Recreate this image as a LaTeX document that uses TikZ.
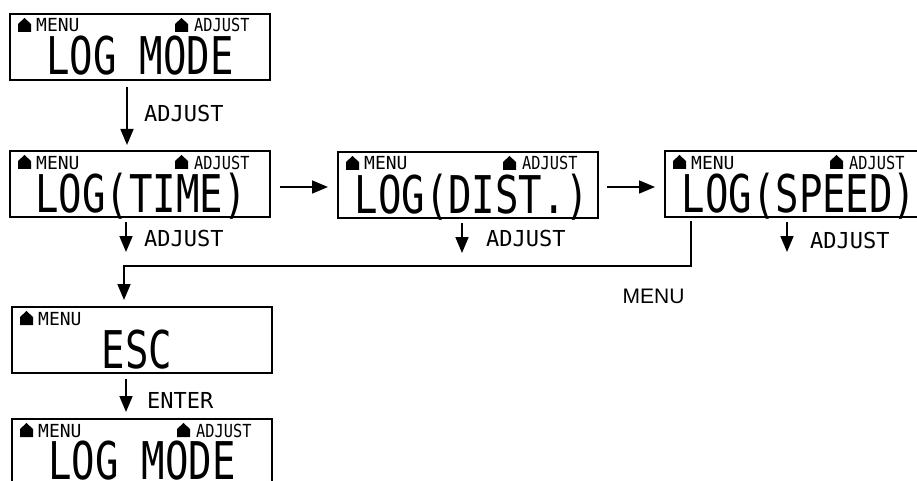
\documentclass[tikz,border=0pt]{standalone}
\usepackage{fontspec}
\usepackage{graphicx}
\usetikzlibrary{arrows.meta,calc}
\newfontfamily\lcdfont{DejaVu Sans Mono}
\newfontfamily\arialfont{Liberation Sans}
\tikzset{
  lcdbox/.style={draw, line width=1.6pt, anchor=north west, minimum width=260pt, minimum height=66pt, inner sep=0pt, outer sep=0pt},
  bigtxt/.style={anchor=base, inner sep=0pt, font=\lcdfont\fontsize{52}{52}\selectfont},
  smalltxt/.style={anchor=base west, inner sep=0pt, font=\lcdfont\fontsize{18}{18}\selectfont},
  steplbl/.style={anchor=base west, inner sep=0pt, font=\lcdfont\fontsize{22}{22}\selectfont},
  arr/.style={line width=1.7pt, -{Triangle[width=13pt,length=16pt]}},
}
\newcommand\lcdmenu[1]{%
  \fill ($(#1.north west)+(8,18)$) -- ++(13,0) -- ++(0,-8) -- ++(-6.5,-6) -- ++(-6.5,6) -- cycle;
  \node[smalltxt] (#1-menu) at ($(#1.north west)+(26,18)$) {MENU};
}
\newcommand\lcdadjust[1]{%
  \fill ($(#1.north west)+(165,18)$) -- ++(13,0) -- ++(0,-8) -- ++(-6.5,-6) -- ++(-6.5,6) -- cycle;
  \node[smalltxt] (#1-adj) at ($(#1.north west)+(184,18)$) {\scalebox{0.85}[1]{ADJUST}};
}
\begin{document}
\begin{tikzpicture}[x=1pt,y=-1pt]
\useasboundingbox (0,0) rectangle (917,481);
\clip (0,0) rectangle (917,481);
% panels
\node[lcdbox] (b1) at (10,14) {};
\node[lcdbox] (b2) at (10,151) {};
\node[lcdbox] (b3) at (338,152) {};
\node[lcdbox] (b4) at (665,151) {};
\node[lcdbox] (b5) at (12,307) {};
\node[lcdbox] (b6) at (12,419) {};
\lcdmenu{b1}\lcdadjust{b1}
\lcdmenu{b2}\lcdadjust{b2}
\lcdmenu{b3}\lcdadjust{b3}
\lcdmenu{b4}\lcdadjust{b4}
\lcdmenu{b5}
\lcdmenu{b6}\lcdadjust{b6}
\node[bigtxt] (b1t) at ($(b1.north)+(0,61)$) {\scalebox{0.75}[1]{LOG MODE}};
\node[bigtxt] (b2t) at ($(b2.north)+(1,61)$) {\scalebox{0.75}[1]{LOG(TIME)}};
\node[bigtxt] (b3t) at ($(b3.north)+(4,61)$) {\scalebox{0.75}[1]{LOG(DIST.)}};
\node[bigtxt] (b4t) at ($(b4.north)+(4,61)$) {\scalebox{0.75}[1]{LOG(SPEED)}};
\node[bigtxt] (b5t) at ($(b5.north)+(-5,61)$) {\scalebox{0.75}[1]{ESC}};
\node[bigtxt] (b6t) at ($(b6.north)+(0,60)$) {\scalebox{0.75}[1]{LOG MODE}};
% connectors
\draw[arr] ($(b1.south west)+(117,7)$) -- ($(b2.north west)+(117,-6)$);
\draw[arr] ($(b2.north east)+(10,36)$) -- ($(b3.north west)+(-10,35)$);
\draw[arr] ($(b3.north east)+(9,35)$) -- ($(b4.north west)+(-10,36)$);
\coordinate (e2) at ($(b2.south west)+(116,35)$);
\coordinate (e3) at ($(b3.south west)+(124,35)$);
\coordinate (e4) at ($(b4.south west)+(122,35)$);
\draw[arr] ($(b2.south west)+(116,5)$) -- (e2);
\draw[arr] ($(b3.south west)+(124,5)$) -- (e3);
\draw[arr] ($(b4.south west)+(122,5)$) -- (e4);
\draw[arr] ($(b4.south west)+(26,4)$) -- ++(0,45) -| ($(b5.north west)+(112,-7)$);
\draw[arr] ($(b5.south west)+(114,6)$) -- ($(b6.north west)+(114,-7)$);
% labels
\node[steplbl] (l1) at (144,122) {ADJUST};
\node[steplbl] (l2) at (144,246) {ADJUST};
\node[steplbl] (l3) at (486,246) {ADJUST};
\node[steplbl] (l4) at (810,248) {ADJUST};
\node[steplbl] (l5) at (147,408) {ENTER};
\node[anchor=base, inner sep=0pt, font=\arialfont\fontsize{21}{21}\selectfont] (lm) at (653.5,303) {MENU};
\end{tikzpicture}
\end{document}
